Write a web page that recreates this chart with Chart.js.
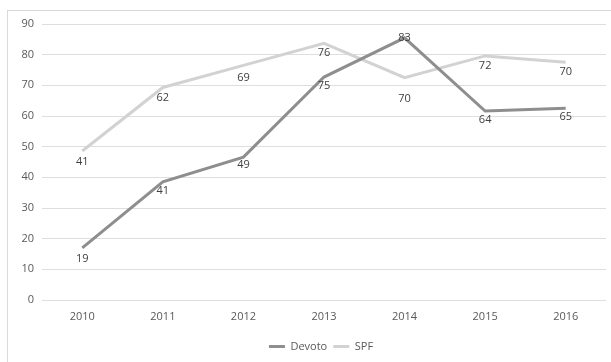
<!DOCTYPE html>
<html>
<head>
<meta charset="utf-8">
<script src="https://cdn.jsdelivr.net/npm/chart.js@4.4.0/dist/chart.umd.min.js"></script>
<style>
  html, body { margin: 0; padding: 0; background: #fff; }
  #wrap { width: 611px; height: 362px; }
</style>
</head>
<body>
<div id="wrap"><canvas id="chart" width="611" height="362"></canvas></div>
<script>
var years = ['2010', '2011', '2012', '2013', '2014', '2015', '2016'];
var devotoValues = [17, 38.5, 46.6, 72.7, 85.5, 61.6, 62.5];
var spfValues = [48.6, 69.3, 76.5, 83.7, 72.5, 79.6, 77.5];
// texto de las etiquetas tal como aparece en el gráfico
var devotoLabels = ['19', '41', '49', '75', '83', '64', '65'];
var spfLabels = ['41', '62', '69', '76', '70', '72', '70'];
var yTicks = [0, 10, 20, 30, 40, 50, 60, 70, 80, 90];

var devotoColor = '#8e8e8e';
var spfColor = '#d2d2d2';
var textColor = '#595959';
var fontFamily = "'Open Sans', 'Liberation Sans', sans-serif";

// desplazamiento vertical (px) de cada etiqueta debajo del punto
var devotoLabelOffset = [11, 9, 8, 9, 0, 9, 9];
var spfLabelOffset = [11, 10, 12, 10, 21, 10, 10];

var frame = {
  id: 'frame',
  beforeDraw: function(chart) {
    var ctx = chart.ctx;
    ctx.save();
    ctx.strokeStyle = '#d9d9d9';
    ctx.lineWidth = 1;
    ctx.strokeRect(7.5, 10.5, 640, 400);
    ctx.restore();
  }
};

// la leyenda del original está algo corrida a la derecha
var legendShift = {
  id: 'legendShift',
  afterLayout: function(chart) {
    if (!chart.legend) return;
    chart.legend.left += 13;
    chart.legend.right += 13;
  }
};

var pointLabels = {
  id: 'pointLabels',
  afterDatasetsDraw: function(chart) {
    var ctx = chart.ctx;
    ctx.save();
    ctx.font = '11px ' + fontFamily;
    ctx.fillStyle = '#404040';
    ctx.textAlign = 'center';
    ctx.textBaseline = 'middle';
    chart.data.datasets.forEach(function(ds, di) {
      var meta = chart.getDatasetMeta(di);
      meta.data.forEach(function(pt, i) {
        ctx.fillText(ds.pointTexts[i], pt.x, pt.y + ds.textOffsets[i]);
      });
    });
    ctx.restore();
  }
};

new Chart(document.getElementById('chart'), {
  type: 'line',
  data: {
    labels: years,
    datasets: [{
      label: 'Devoto',
      data: devotoValues,
      pointTexts: devotoLabels,
      textOffsets: devotoLabelOffset,
      borderColor: devotoColor,
      backgroundColor: devotoColor,
      borderWidth: 3,
      pointRadius: 0,
      tension: 0
    }, {
      label: 'SPF',
      data: spfValues,
      pointTexts: spfLabels,
      textOffsets: spfLabelOffset,
      borderColor: spfColor,
      backgroundColor: spfColor,
      borderWidth: 3,
      pointRadius: 0,
      tension: 0
    }]
  },
  options: {
    responsive: false,
    animation: false,
    layout: { padding: { left: 10, right: 5, top: 24, bottom: 0 } },
    plugins: {
      legend: {
        position: 'bottom',
        labels: {
          usePointStyle: true,
          pointStyle: 'line',
          pointStyleWidth: 16,
          color: textColor,
          font: { family: fontFamily, size: 11 },
          padding: 6
        }
      },
      tooltip: { enabled: false }
    },
    scales: {
      x: {
        offset: true,
        grid: { display: false },
        border: { display: false },
        afterFit: function(axis) { axis.height = 35; },
        ticks: { color: textColor, font: { family: fontFamily, size: 11 }, padding: 2 }
      },
      y: {
        min: 0,
        max: 90,
        afterBuildTicks: function(axis) {
          axis.ticks = yTicks.map(function(v) { return { value: v }; });
        },
        afterFit: function(axis) { axis.width = 32; },
        grid: { color: '#dedede', lineWidth: 1, drawTicks: false },
        border: { display: false },
        ticks: { color: textColor, font: { family: fontFamily, size: 11 }, padding: 8 }
      }
    }
  },
  plugins: [frame, legendShift, pointLabels]
});
</script>
</body>
</html>
